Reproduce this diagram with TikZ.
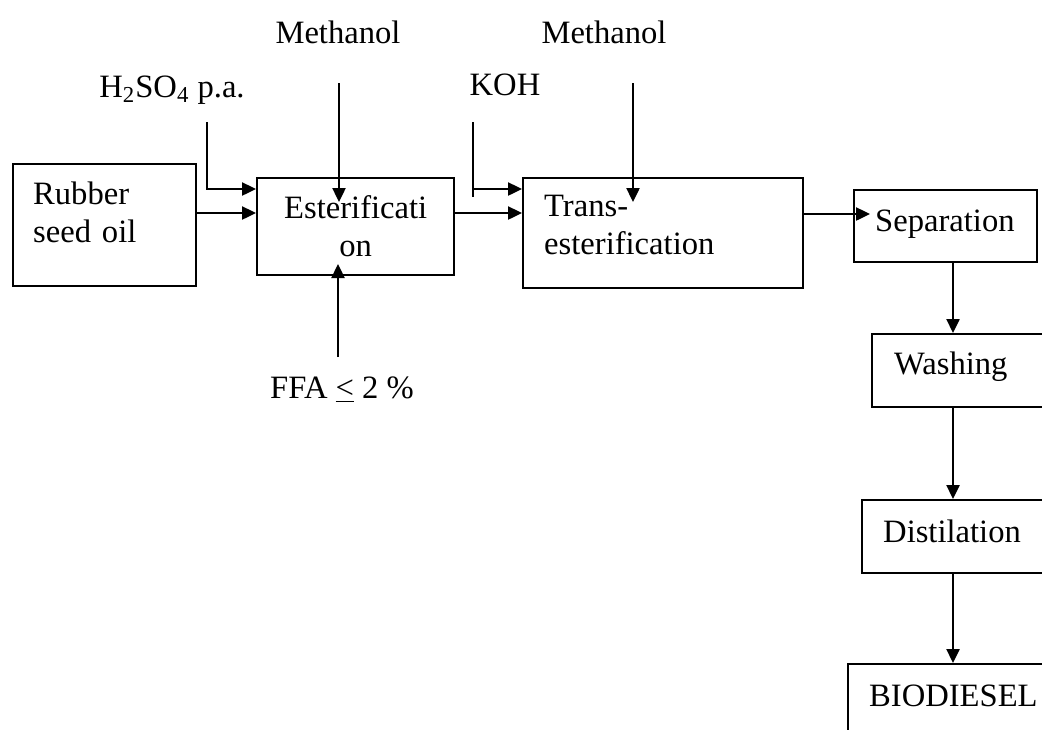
\documentclass[tikz,border=0pt]{standalone}
\usepackage{fontspec}
\setmainfont{Liberation Serif}
\usepackage{tikz}
\usetikzlibrary{arrows.meta,positioning}

\begin{document}
\begin{tikzpicture}[x=0.5pt,y=-0.5pt,
    font=\fontsize{16.3pt}{19pt}\selectfont,
    box/.style={draw,line width=1.2pt,anchor=north west,inner ysep=0pt,align=left},
    arr/.style={line width=1.2pt,-{Triangle[length=7pt,width=6.5pt]}},
    lin/.style={line width=1.2pt}]
    \useasboundingbox (0,0) rectangle (1042,729);
    \clip (0,0) rectangle (1042,729);
    % process boxes
    \node[box,inner xsep=10pt,text width=71.5pt,text height=20pt,text depth=41pt] (oil) at (12,163) {Rubber\\seed oil};
    \node[box,align=center,inner xsep=5pt,text width=88.5pt,text height=20pt,text depth=28.5pt] (est) at (256,177) {Esterificati\\on};
    \node[box,inner xsep=10.5pt,text width=119pt,text height=19pt,text depth=36pt] (trans) at (522,177) {Trans-\\esterification};
    \node[box,inner xsep=10.5pt,text width=70.5pt,text height=20.5pt,text depth=15.5pt] (sep) at (853,189) {Separation};
    \node[box,inner xsep=11pt,text width=72.5pt,text height=20pt,text depth=16.5pt] (wash) at (871,333) {Washing};
    \node[box,inner xsep=10.5pt,text width=78.5pt,text height=21pt,text depth=15.5pt] (dist) at (861,499) {Distilation};
    \node[box,inner xsep=10.5pt,text width=85.5pt,text height=21pt,text depth=30pt] (bio) at (847,663) {BIODIESEL};
    % feed labels
    \node (meth1) at (338,32) {Methanol};
    \node (meth2) at (604,32) {Methanol};
    \node (acid) at (172,90) {H\textsubscript{2}SO\textsubscript{4} p.a.};
    \node (koh) at (505,85) {KOH};
    \node (ffa) at (342,390) {FFA \underline{<} 2 \%};
    % inlet points
    \coordinate (estA) at (256,189);
    \coordinate (estB) at (256,213);
    \coordinate (trA) at (522,189);
    \coordinate (trB) at (522,213);
    \coordinate (sepA) at (870,214);
    \coordinate (acidtop) at (207,122);
    \coordinate (kohtop) at (473,122);
    \coordinate (kohbot) at (473,197);
    \coordinate (m1top) at (339,83);
    \coordinate (m1tip) at (339,202);
    \coordinate (m2top) at (633,83);
    \coordinate (m2tip) at (633,202);
    \coordinate (ffabot) at (338,357);
    \coordinate (ffatip) at (338,264);
    \coordinate (col) at (953,0);
    % streams
    \draw[arr] (acidtop) |- (estA);
    \draw[arr] (oil.east |- estB) -- (estB);
    \draw[arr] (m1top) -- (m1tip);
    \draw[arr] (ffabot) -- (ffatip);
    \draw[arr] (est.east |- trB) -- (trB);
    \draw[lin] (kohtop) -- (kohbot);
    \draw[arr] (kohtop |- trA) -- (trA);
    \draw[arr] (m2top) -- (m2tip);
    \draw[arr] (trans.east |- sepA) -- (sepA);
    \foreach \a/\b in {sep/wash,wash/dist,dist/bio}{
        \draw[arr] (\a.south -| col) -- (\b.north -| col);
    }
\end{tikzpicture}
\end{document}
